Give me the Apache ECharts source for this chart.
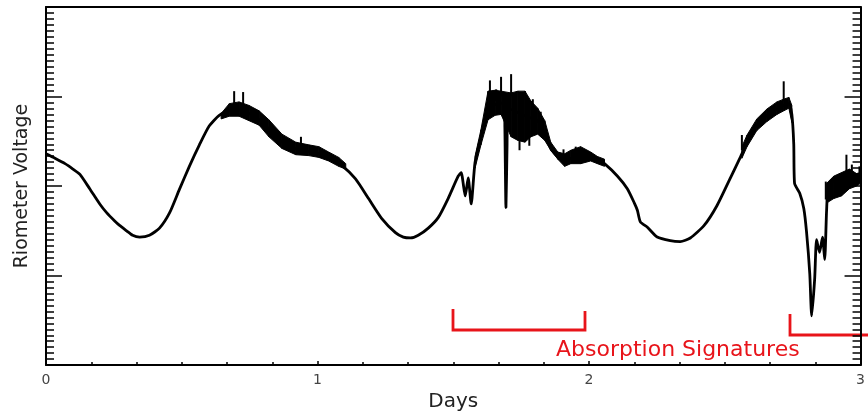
<!DOCTYPE html>
<html>
<head>
<meta charset="utf-8">
<script src="https://cdn.jsdelivr.net/npm/echarts@6/dist/echarts.min.js"></script>
<style>
    html, body { margin: 0; padding: 0; background: #fff; }
    #chart { width: 868px; height: 417px; }
</style>
</head>
<body>
<div id="chart"></div>
<script>
// 时间（天）
var days = [0, 0.033, 0.070, 0.099, 0.125, 0.161, 0.198, 0.224, 0.253, 0.271, 0.297, 0.319, 0.345, 0.381,
    0.418, 0.455, 0.491, 0.528, 0.565, 0.601, 0.638, 0.675, 0.711, 0.748, 0.785, 0.821, 0.869, 0.920,
    0.994, 1.041, 1.089, 1.140, 1.188, 1.236, 1.287, 1.316, 1.342, 1.371, 1.408, 1.445, 1.481, 1.518,
    1.529, 1.544, 1.555, 1.566, 1.580, 1.602, 1.628, 1.665, 1.687, 1.690, 1.694, 1.698, 1.701, 1.738,
    1.775, 1.811, 1.837, 1.859, 1.885, 1.921, 1.958, 1.995, 2.031, 2.057, 2.105, 2.141, 2.167, 2.178,
    2.189, 2.215, 2.251, 2.299, 2.336, 2.373, 2.424, 2.471, 2.519, 2.563, 2.582, 2.618, 2.655, 2.692,
    2.717, 2.736, 2.747, 2.754, 2.757, 2.776, 2.791, 2.801, 2.813, 2.820, 2.831, 2.838, 2.849, 2.860,
    2.868, 2.875, 2.882, 2.912, 2.948, 2.985, 3.0];
// 电压
var voltage = [2.36, 2.31, 2.25, 2.19, 2.13, 1.97, 1.80, 1.70, 1.61, 1.56, 1.50, 1.45, 1.43, 1.45,
    1.53, 1.70, 1.96, 2.22, 2.46, 2.67, 2.79, 2.84, 2.85, 2.81, 2.74, 2.63, 2.49, 2.42,
    2.37, 2.32, 2.23, 2.08, 1.86, 1.64, 1.48, 1.43, 1.42, 1.45, 1.53, 1.65, 1.86, 2.11,
    2.15, 1.89, 2.09, 1.80, 2.26, 2.55, 2.87, 2.92, 2.93, 2.66, 1.76, 2.44, 2.87, 2.82,
    2.77, 2.73, 2.58, 2.42, 2.33, 2.30, 2.33, 2.33, 2.30, 2.25, 2.11, 1.97, 1.81, 1.73,
    1.60, 1.54, 1.43, 1.39, 1.38, 1.42, 1.56, 1.78, 2.08, 2.36, 2.50, 2.68, 2.79, 2.86,
    2.90, 2.92, 2.80, 2.47, 2.03, 1.92, 1.75, 1.49, 1.02, 0.55, 0.96, 1.40, 1.26, 1.43,
    1.18, 1.73, 2.00, 2.08, 2.11, 2.09, 2.11];

// 噪声带 [天, 下沿, 上沿]
var noiseDay1 = [[0.645, 2.75, 2.81], [0.675, 2.78, 2.92], [0.711, 2.78, 2.94], [0.748, 2.73, 2.90],
    [0.785, 2.68, 2.84], [0.821, 2.55, 2.74], [0.869, 2.42, 2.58], [0.920, 2.35, 2.49],
    [0.968, 2.34, 2.46], [1.005, 2.32, 2.44], [1.041, 2.28, 2.38], [1.078, 2.22, 2.32], [1.104, 2.19, 2.25]];
var noiseDay2 = [[1.580, 2.20, 2.33], [1.602, 2.46, 2.63], [1.628, 2.74, 3.06], [1.654, 2.79, 3.07],
    [1.676, 2.80, 3.06], [1.713, 2.55, 3.04], [1.738, 2.51, 3.06], [1.764, 2.49, 3.06],
    [1.786, 2.55, 2.95], [1.811, 2.58, 2.87], [1.837, 2.51, 2.73], [1.859, 2.40, 2.49],
    [1.885, 2.30, 2.38], [1.910, 2.22, 2.36], [1.933, 2.25, 2.40], [1.969, 2.25, 2.44],
    [2.006, 2.28, 2.38], [2.031, 2.25, 2.33], [2.057, 2.22, 2.30]];
var noiseDay3 = [[2.563, 2.31, 2.44], [2.582, 2.44, 2.57], [2.618, 2.62, 2.75], [2.655, 2.72, 2.86],
    [2.692, 2.80, 2.94], [2.717, 2.84, 2.97], [2.736, 2.87, 2.99], [2.747, 2.71, 2.90]];
var noiseEnd = [[2.875, 1.81, 2.03], [2.901, 1.86, 2.11], [2.930, 1.89, 2.15], [2.959, 1.97, 2.19],
    [2.985, 2.00, 2.14], [3.0, 2.03, 2.15]];

// 尖峰 [天, 基线, 顶点]
var spikes = [[0.693, 2.87, 3.06], [0.726, 2.87, 3.05], [0.939, 2.42, 2.55], [1.635, 3.00, 3.18],
    [1.676, 3.00, 3.22], [1.713, 3.00, 3.25], [1.764, 3.00, 3.06], [2.563, 2.40, 2.57],
    [2.717, 2.95, 3.17], [2.948, 2.10, 2.35], [1.658, 2.95, 3.08], [1.793, 2.80, 2.97],
    [1.822, 2.70, 2.83], [1.906, 2.30, 2.41], [1.951, 2.30, 2.44], [2.872, 1.85, 2.05],
    [2.968, 2.05, 2.24], [2.996, 2.05, 2.22], [1.744, 2.40, 2.60], [1.780, 2.45, 2.62]];

var dayTicks = ['0', '1', '2', '3'];

var myChart = echarts.init(document.getElementById('chart'));

// 噪声带：相邻两点之间画四边形
function bandSeries(band) {
    return {
        type: 'custom',
        clip: true,
        silent: true,
        data: band,
        renderItem: function (params, api) {
            var i = params.dataIndex;
            if (i >= band.length - 1) return;
            var a = band[i], b = band[i + 1];
            return {
                type: 'polygon',
                shape: {
                    points: [api.coord([a[0], a[1]]), api.coord([a[0], a[2]]),
                        api.coord([b[0], b[2]]), api.coord([b[0], b[1]])]
                },
                style: { fill: '#000', stroke: '#000', lineWidth: 1 }
            };
        }
    };
}

var axisFont = '"DejaVu Sans", sans-serif';

var option = {
    animation: false,
    grid: { left: 46, right: 4, top: 7, bottom: 44 },
    xAxis: [{
        type: 'value',
        min: 0,
        max: 3,
        interval: 1,
        name: 'Days',
        nameLocation: 'middle',
        nameGap: 21,
        nameTextStyle: { fontSize: 20, color: '#222', fontFamily: axisFont },
        axisLine: { lineStyle: { color: '#000', width: 2 } },
        axisTick: { inside: true, length: 4, lineStyle: { color: '#000', width: 1.5 } },
        minorTick: { show: true, splitNumber: 6, length: 3, lineStyle: { color: '#000', width: 1.5 } },
        axisLabel: {
            margin: 8,
            fontSize: 14,
            color: '#444',
            fontFamily: axisFont,
            formatter: function (v) { return dayTicks[Math.round(v)]; }
        },
        splitLine: { show: false }
    }, {
        type: 'value',
        position: 'top',
        min: 0,
        max: 3,
        axisLine: { show: true, onZero: false, lineStyle: { color: '#000', width: 2 } },
        axisTick: { show: false },
        axisLabel: { show: false },
        splitLine: { show: false }
    }],
    yAxis: [{
        type: 'value',
        min: 0,
        max: 4,
        interval: 1,
        name: 'Riometer Voltage',
        nameLocation: 'middle',
        nameGap: 14,
        nameTextStyle: { fontSize: 19, color: '#222', fontFamily: axisFont },
        axisLine: { show: true, lineStyle: { color: '#000', width: 2 } },
        axisTick: { inside: true, length: 16, lineStyle: { color: '#000', width: 1.5 } },
        minorTick: { show: true, splitNumber: 15, length: 8, lineStyle: { color: '#000', width: 1.5 } },
        axisLabel: { show: false },
        splitLine: { show: false }
    }, {
        type: 'value',
        position: 'right',
        min: 0,
        max: 4,
        interval: 1,
        axisLine: { show: true, onZero: false, lineStyle: { color: '#000', width: 2 } },
        axisTick: { inside: true, length: 16, lineStyle: { color: '#000', width: 1.5 } },
        minorTick: { show: true, splitNumber: 15, length: 8, lineStyle: { color: '#000', width: 1.5 } },
        axisLabel: { show: false },
        splitLine: { show: false }
    }],
    series: [
        {
            type: 'line',
            data: days.map(function (d, i) { return [d, voltage[i]]; }),
            showSymbol: false,
            symbol: 'none',
            smooth: 0.2,
            lineStyle: { color: '#000', width: 2.8 },
            silent: true
        },
        bandSeries(noiseDay1),
        bandSeries(noiseDay2),
        bandSeries(noiseDay3),
        bandSeries(noiseEnd),
        {
            type: 'custom',
            silent: true,
            clip: true,
            data: spikes,
            renderItem: function (params, api) {
                var p0 = api.coord([api.value(0), api.value(1)]);
                var p1 = api.coord([api.value(0), api.value(2)]);
                return {
                    type: 'line',
                    shape: { x1: p0[0], y1: p0[1], x2: p1[0], y2: p1[1] },
                    style: { stroke: '#000', lineWidth: 2 }
                };
            }
        }
    ],
    graphic: [
        {
            type: 'polyline',
            shape: { points: [[453, 309], [453, 330], [585, 330], [585, 311]] },
            style: { stroke: '#e8141a', lineWidth: 2.8, fill: null }
        },
        {
            type: 'polyline',
            shape: { points: [[790, 314], [790, 335], [868, 335]] },
            style: { stroke: '#e8141a', lineWidth: 2.8, fill: null }
        },
        {
            type: 'text',
            left: 556,
            top: 339,
            style: {
                text: 'Absorption Signatures',
                fill: '#e8141a',
                font: '22px "DejaVu Sans", sans-serif'
            }
        }
    ]
};

myChart.setOption(option);
</script>
</body>
</html>
